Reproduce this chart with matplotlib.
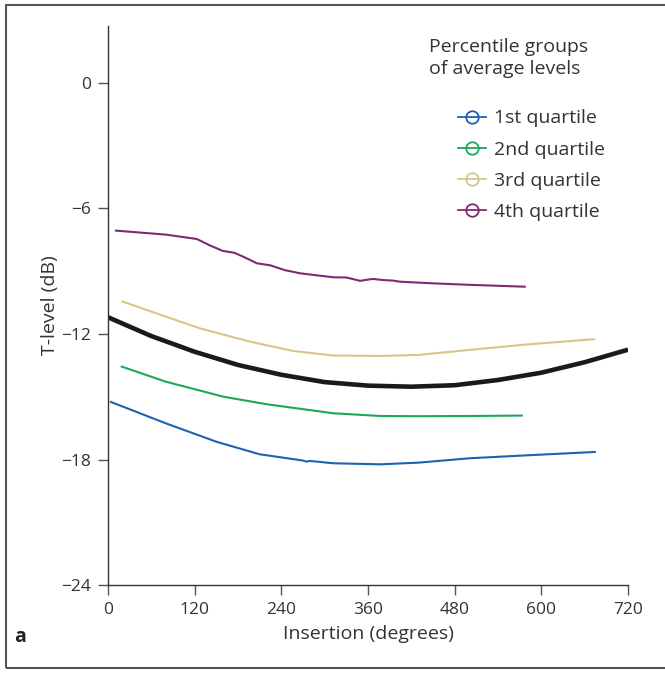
import matplotlib.pyplot as plt
import matplotlib.patches as mpatches
from matplotlib.lines import Line2D

plt.rcParams['font.family'] = ['Open Sans', 'DejaVu Sans']

# Overall fitted curve (thick black)
fit_x = [0, 60, 120, 180, 240, 300, 360, 420, 480, 540, 600, 660, 720]
fit_y = [-11.2, -12.1, -12.85, -13.48, -13.95, -14.3, -14.47, -14.52, -14.45, -14.2, -13.85, -13.35, -12.75]

# Percentile groups
q1_x = [4, 80, 150, 210, 270, 274, 280, 312, 377, 430, 501, 580, 674]
q1_y = [-15.25, -16.27, -17.15, -17.75, -18.05, -18.1, -18.07, -18.18, -18.23, -18.15, -17.94, -17.8, -17.64]

q2_x = [19, 80, 160, 220, 312, 377, 430, 500, 573]
q2_y = [-13.56, -14.28, -15.0, -15.36, -15.79, -15.92, -15.93, -15.92, -15.9]

q3_x = [20, 127, 197, 256, 312, 377, 430, 501, 580, 673]
q3_y = [-10.45, -11.73, -12.37, -12.81, -13.03, -13.05, -13.0, -12.76, -12.5, -12.25]

q4_x = [11, 80, 123, 140, 159, 175, 190, 206, 225, 245, 266, 290, 312, 330,
        349, 360, 367, 380, 395, 404, 450, 500, 577]
q4_y = [-7.06, -7.25, -7.46, -7.75, -8.03, -8.12, -8.35, -8.62, -8.72, -8.95, -9.10, -9.2,
        -9.29, -9.3, -9.46, -9.4, -9.37, -9.42, -9.45, -9.5, -9.58, -9.65, -9.74]

labels = ['1st quartile', '2nd quartile', '3rd quartile', '4th quartile']
colors = ['#1b63b0', '#1aa85a', '#d6c68c', '#7d2a72']

fig = plt.figure(figsize=(6.65, 6.74), dpi=100)
ax = fig.add_axes([0.1624, 0.132, 0.782, 0.8294])

ax.plot(fit_x, fit_y, color='#1a1a1a', lw=3.3, solid_capstyle='butt')
for xs, ys, c in zip([q1_x, q2_x, q3_x, q4_x], [q1_y, q2_y, q3_y, q4_y], colors):
    ax.plot(xs, ys, color=c, lw=1.5)

ax.set_xlim(0, 720)
ax.set_ylim(-24, 2.72)
ax.set_xticks([0, 120, 240, 360, 480, 600, 720])
ax.set_yticks([0, -6, -12, -18, -24])
ax.set_yticklabels(['0', '\u22126', '\u221212', '\u221218', '\u221224'])
for s in ['top', 'right']:
    ax.spines[s].set_visible(False)
for s in ['left', 'bottom']:
    ax.spines[s].set_color('#333333')
    ax.spines[s].set_linewidth(1.0)
ax.tick_params(direction='out', length=7, width=1.0, color='#555555',
               labelsize=12.5, labelcolor='#333333', pad=5)
ax.set_xlabel('Insertion (degrees)', fontsize=14, color='#333333', labelpad=5)
ax.set_ylabel('T-level (dB)', fontsize=14, color='#333333', labelpad=2)

fig.text(0.021, 0.048, 'a', fontsize=14, weight='bold', color='#222222')

# legend
ax.text(0.617, 0.978, 'Percentile groups\nof average levels', transform=ax.transAxes,
        fontsize=14, color='#333333', va='top', ha='left', linespacing=1.25)
handles = [Line2D([0], [0], color=c, lw=1.3, marker='o', markersize=9,
                  markerfacecolor='none', markeredgecolor=c, markeredgewidth=1.3)
           for c in colors]
leg = ax.legend(handles, labels, loc='upper left', bbox_to_anchor=(0.64, 0.882),
                frameon=False, fontsize=14, handlelength=1.4, handletextpad=0.45,
                labelspacing=0.68, labelcolor='#333333', markerfirst=True)
for h in leg.legend_handles:
    h.set_markevery([1])

# outer frame
fig.patches.append(mpatches.Rectangle((0.009, 0.009), 1.2, 0.984, transform=fig.transFigure,
                                      fill=False, ec='#555555', lw=1.5))

fig.savefig('out.png', dpi=100)
